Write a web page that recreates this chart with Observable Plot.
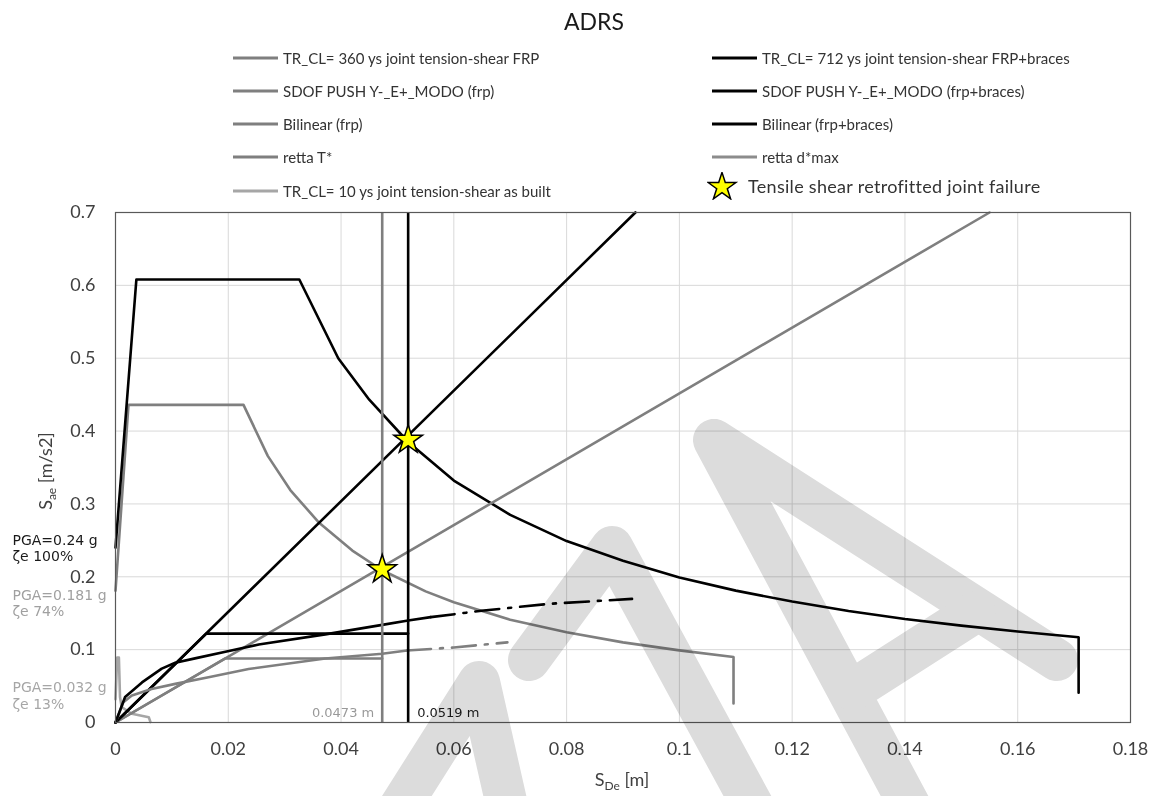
<!DOCTYPE html>
<html>
<head>
<meta charset="utf-8">
<script src="https://cdn.jsdelivr.net/npm/d3@7"></script>
<script src="https://cdn.jsdelivr.net/npm/@observablehq/plot@0.6"></script>
<style>
  body { margin: 0; background: #fff; }
  #page { position: relative; width: 1153px; height: 796px; overflow: hidden; font-family: Lato, "Open Sans", sans-serif; color: #404040; }
  #header { position: relative; width: 1153px; height: 200px; }
  #title { position: absolute; left: 0; width: 1188px; top: 7px; text-align: center; font-size: 23px; color: #1a1a1a; }
  .leg { position: absolute; display: flex; align-items: center; font-size: 15px; color: #333; white-space: nowrap; }
  .leg svg { margin-right: 4px; }
  #wm { position: absolute; left: 0; top: 0; pointer-events: none; mix-blend-mode: multiply; }
</style>
</head>
<body>
<div id="page">
  <div id="header"><div id="title">ADRS</div></div>
  <div id="chart"></div>
</div>
<script>
// ---------------- data ----------------
const xTicks = [0, 0.02, 0.04, 0.06, 0.08, 0.1, 0.12, 0.14, 0.16, 0.18];
const xTickLabels = ["0", "0.02", "0.04", "0.06", "0.08", "0.1", "0.12", "0.14", "0.16", "0.18"];
const yTicks = [0, 0.1, 0.2, 0.3, 0.4, 0.5, 0.6, 0.7];
const yTickLabels = ["0", "0.1", "0.2", "0.3", "0.4", "0.5", "0.6", "0.7"];

// TR_CL= 712 ys spectrum (frp+braces)
const trcl712X = [0, 0.0037, 0.0326, 0.0395, 0.045, 0.0519, 0.06, 0.07, 0.08, 0.09, 0.10, 0.11, 0.12, 0.13, 0.14, 0.15, 0.16, 0.1708, 0.1708];
const trcl712Y = [0.24, 0.608, 0.608, 0.50, 0.443, 0.385, 0.332, 0.285, 0.249, 0.222, 0.199, 0.181, 0.166, 0.153, 0.142, 0.133, 0.125, 0.117, 0.041];
// TR_CL= 360 ys spectrum (frp)
const trcl360X = [0, 0.0023, 0.0227, 0.027, 0.031, 0.036, 0.042, 0.0473, 0.055, 0.06, 0.07, 0.08, 0.09, 0.10, 0.1096, 0.1096];
const trcl360Y = [0.181, 0.436, 0.436, 0.366, 0.319, 0.275, 0.236, 0.209, 0.18, 0.165, 0.141, 0.124, 0.11, 0.099, 0.09, 0.026];
// TR_CL= 10 ys spectrum (as built)
const trcl10X = [0, 0.0003, 0.0006, 0.0008, 0.0011, 0.0029, 0.0059, 0.0062];
const trcl10Y = [0.032, 0.089, 0.089, 0.035, 0.021, 0.012, 0.0073, 0.0005];
// SDOF pushover (frp+braces)
const pushBracesX = [0, 0.0017, 0.0047, 0.0082, 0.0106, 0.0141, 0.0195, 0.0254, 0.0372, 0.0473, 0.0519, 0.0559];
const pushBracesY = [0, 0.035, 0.055, 0.074, 0.082, 0.088, 0.097, 0.107, 0.121, 0.134, 0.14, 0.1446];
const pushBracesExtX = [0.0559, 0.0653, 0.0771, 0.0916];
const pushBracesExtY = [0.1446, 0.1537, 0.163, 0.1697];
// SDOF pushover (frp)
const pushFrpX = [0, 0.0014, 0.0029, 0.0064, 0.0106, 0.0165, 0.0236, 0.0372, 0.0473, 0.0517];
const pushFrpY = [0, 0.028, 0.037, 0.046, 0.053, 0.062, 0.0734, 0.0878, 0.0944, 0.0988];
const pushFrpExtX = [0.0517, 0.06, 0.0695];
const pushFrpExtY = [0.0988, 0.103, 0.110];
// Bilinears
const bilinFrpX = [0, 0.0194, 0.0473];
const bilinFrpY = [0, 0.0878, 0.0878];
const bilinBracesX = [0, 0.0161, 0.0519];
const bilinBracesY = [0, 0.122, 0.122];
// retta T*
const rettaFrpX = [0, 0.155];
const rettaFrpY = [0, 0.7];
const rettaBracesX = [0, 0.0922];
const rettaBracesY = [0, 0.7];
// retta d*max
const dmaxValues = [0.0473, 0.0519];
const dmaxLabels = ["0.0473 m", "0.0519 m"];
// failure points
const starX = [0.0519, 0.0473];
const starY = [0.388, 0.21];
// PGA annotations
const pgaValues = [0.24, 0.181, 0.032];
const pgaLabels = ["PGA=0.24 g\nζe 100%", "PGA=0.181 g\nζe 74%", "PGA=0.032 g\nζe 13%"];

const legendLeft = ["TR_CL= 360 ys joint tension-shear FRP", "SDOF PUSH Y-_E+_MODO (frp)", "Bilinear (frp)", "retta T*", "TR_CL= 10 ys joint tension-shear as built"];
const legendRight = ["TR_CL= 712 ys joint tension-shear FRP+braces", "SDOF PUSH Y-_E+_MODO (frp+braces)", "Bilinear (frp+braces)", "retta d*max"];
const legendStar = "Tensile shear retrofitted joint failure";

// ---------------- styles ----------------
const GREY = "#7f7f7f", LIGHT = "#a6a6a6", BLACK = "#000000";
const leftColors = [GREY, GREY, GREY, GREY, LIGHT];
const rightColors = [BLACK, BLACK, BLACK, "#8c8c8c"];

const rows = (xs, ys) => xs.map((x, i) => ({x, y: ys[i]}));
const LW = 2.6;

// ---------------- legend ----------------
const header = document.getElementById("header");
const rowY = [58, 91, 124, 157, 191];
function addLeg(x, y, label, color) {
  const d = document.createElement("div");
  d.className = "leg";
  d.style.left = x + "px";
  d.style.top = (y - 10) + "px";
  d.style.height = "20px";
  d.innerHTML = `<svg width="46" height="6"><line x1="0" x2="45" y1="3" y2="3" stroke="${color}" stroke-width="3"/></svg>`;
  const s = document.createElement("span");
  s.textContent = label;
  d.appendChild(s);
  header.appendChild(d);
}
legendLeft.forEach((l, i) => addLeg(233, rowY[i], l, leftColors[i]));
legendRight.forEach((l, i) => addLeg(712, rowY[i], l, rightColors[i]));
{
  const d = document.createElement("div");
  d.className = "leg";
  d.style.left = "707px";
  d.style.top = "172px";
  d.style.height = "28px";
  d.style.fontSize = "18px";
  d.style.letterSpacing = "0.3px";
  const p = d3.symbol(d3.symbolStar, 240)();
  d.innerHTML = `<svg width="34" height="28"><path d="${p}" transform="translate(15,15)" fill="#ffff00" stroke="#000" stroke-width="1.5"/></svg>`;
  const s = document.createElement("span");
  s.textContent = legendStar;
  s.style.marginLeft = "3px";
  d.appendChild(s);
  header.appendChild(d);
}

// ---------------- chart ----------------
const dashDot = "24,9,3,9";
const noteFont = "DejaVu Sans, Verdana, sans-serif";
const chart = Plot.plot({
  width: 1153,
  height: 596,
  marginTop: 12,
  marginBottom: 74,
  marginLeft: 115,
  marginRight: 23,
  style: {background: "transparent", fontFamily: "Lato, 'Open Sans', sans-serif", color: "#404040", overflow: "visible"},
  x: {domain: [0, 0.18]},
  y: {domain: [0, 0.7]},
  marks: [
    Plot.gridX(xTicks, {stroke: "#d9d9d9", strokeOpacity: 1, strokeWidth: 1}),
    Plot.gridY(yTicks, {stroke: "#d9d9d9", strokeOpacity: 1, strokeWidth: 1}),
    Plot.axisX(xTicks, {tickSize: 0, tickPadding: 20, fontSize: 18, label: null, tickFormat: (d, i) => xTickLabels[i]}),
    Plot.axisY(yTicks, {tickSize: 0, tickPadding: 20, fontSize: 18, label: null, tickFormat: (d, i) => yTickLabels[i]}),
    // spectra
    Plot.line(rows(trcl10X, trcl10Y), {x: "x", y: "y", stroke: LIGHT, strokeWidth: LW}),
    Plot.line(rows(trcl360X, trcl360Y), {x: "x", y: "y", stroke: GREY, strokeWidth: LW}),
    Plot.line(rows(trcl712X, trcl712Y), {x: "x", y: "y", stroke: BLACK, strokeWidth: LW}),
    // retta T*
    Plot.line(rows(rettaFrpX, rettaFrpY), {x: "x", y: "y", stroke: GREY, strokeWidth: LW}),
    Plot.line(rows(rettaBracesX, rettaBracesY), {x: "x", y: "y", stroke: BLACK, strokeWidth: LW}),
    // bilinears
    Plot.line(rows(bilinFrpX, bilinFrpY), {x: "x", y: "y", stroke: GREY, strokeWidth: LW}),
    Plot.line(rows(bilinBracesX, bilinBracesY), {x: "x", y: "y", stroke: BLACK, strokeWidth: LW}),
    // pushovers
    Plot.line(rows(pushFrpX, pushFrpY), {x: "x", y: "y", stroke: GREY, strokeWidth: LW}),
    Plot.line(rows(pushFrpExtX, pushFrpExtY), {x: "x", y: "y", stroke: GREY, strokeWidth: LW, strokeDasharray: dashDot}),
    Plot.line(rows(pushBracesX, pushBracesY), {x: "x", y: "y", stroke: BLACK, strokeWidth: LW}),
    Plot.line(rows(pushBracesExtX, pushBracesExtY), {x: "x", y: "y", stroke: BLACK, strokeWidth: LW, strokeDasharray: dashDot}),
    // retta d*max
    Plot.ruleX([dmaxValues[0]], {y1: 0, y2: 0.7, stroke: GREY, strokeWidth: 2.6}),
    Plot.ruleX([dmaxValues[1]], {y1: 0, y2: 0.7, stroke: BLACK, strokeWidth: 2.6}),
    Plot.frame({stroke: "#595959", strokeWidth: 1.2}),
    Plot.text([dmaxLabels[0]], {x: dmaxValues[0], y: 0, dx: -8, dy: -10, textAnchor: "end", fill: "#999999", fontSize: 13, fontFamily: noteFont, text: d => d}),
    Plot.text([dmaxLabels[1]], {x: dmaxValues[1], y: 0, dx: 9, dy: -10, textAnchor: "start", fill: "#1a1a1a", fontSize: 13, fontFamily: noteFont, text: d => d}),
    // PGA notes
    Plot.text([pgaLabels[0]], {x: 0, y: pgaValues[0], dx: -103, dy: 0, textAnchor: "start", fill: "#1a1a1a", fontSize: 14, lineHeight: 1.2, fontFamily: noteFont, text: d => d}),
    Plot.text([pgaLabels[1]], {x: 0, y: pgaValues[1], dx: -103, dy: 12, textAnchor: "start", fill: "#a0a0a0", fontSize: 14, lineHeight: 1.2, fontFamily: noteFont, text: d => d}),
    Plot.text([pgaLabels[2]], {x: 0, y: pgaValues[2], dx: -103, dy: -4, textAnchor: "start", fill: "#a6a6a6", fontSize: 14, lineHeight: 1.2, fontFamily: noteFont, text: d => d}),
    // stars
    Plot.dot(rows(starX, starY), {x: "x", y: "y", symbol: "star", r: 9, fill: "#ffff00", stroke: "#000", strokeWidth: 1.5})
  ]
});
document.getElementById("chart").appendChild(chart);

// axis titles with subscripts
const svg = d3.select(chart);
const xl = svg.append("text").attr("x", 622).attr("y", 586).attr("text-anchor", "middle")
  .attr("fill", "#404040").style("font-size", "18px").style("font-family", "Lato, sans-serif");
xl.append("tspan").text("S");
xl.append("tspan").text("De").attr("font-size", "12px").attr("dy", 4);
xl.append("tspan").text(" [m]").attr("dy", -4);
const yl = svg.append("text").attr("transform", "translate(52,271) rotate(-90)").attr("text-anchor", "middle")
  .attr("fill", "#404040").style("font-size", "18px").style("font-family", "Lato, sans-serif");
yl.append("tspan").text("S");
yl.append("tspan").text("ae").attr("font-size", "12px").attr("dy", 4);
yl.append("tspan").text(" [m/s2]").attr("dy", -4);

// decorative watermark (page pixels)
const wm = d3.select("#page").append("svg").attr("id", "wm").attr("width", 1153).attr("height", 796);
const wmPaths = [
  [[398, 810], [479, 682], [508, 810]],
  [[529, 660], [612, 547], [755, 810]],
  [[912, 810], [714, 440], [1057, 660]],
  [[853, 690], [975, 612]]
];
wmPaths.forEach(p => wm.append("path").attr("d", d3.line()(p)).attr("fill", "none")
  .attr("stroke", "#dcdcdc").attr("stroke-width", 42).attr("stroke-linecap", "round").attr("stroke-linejoin", "round"));
</script>
</body>
</html>
